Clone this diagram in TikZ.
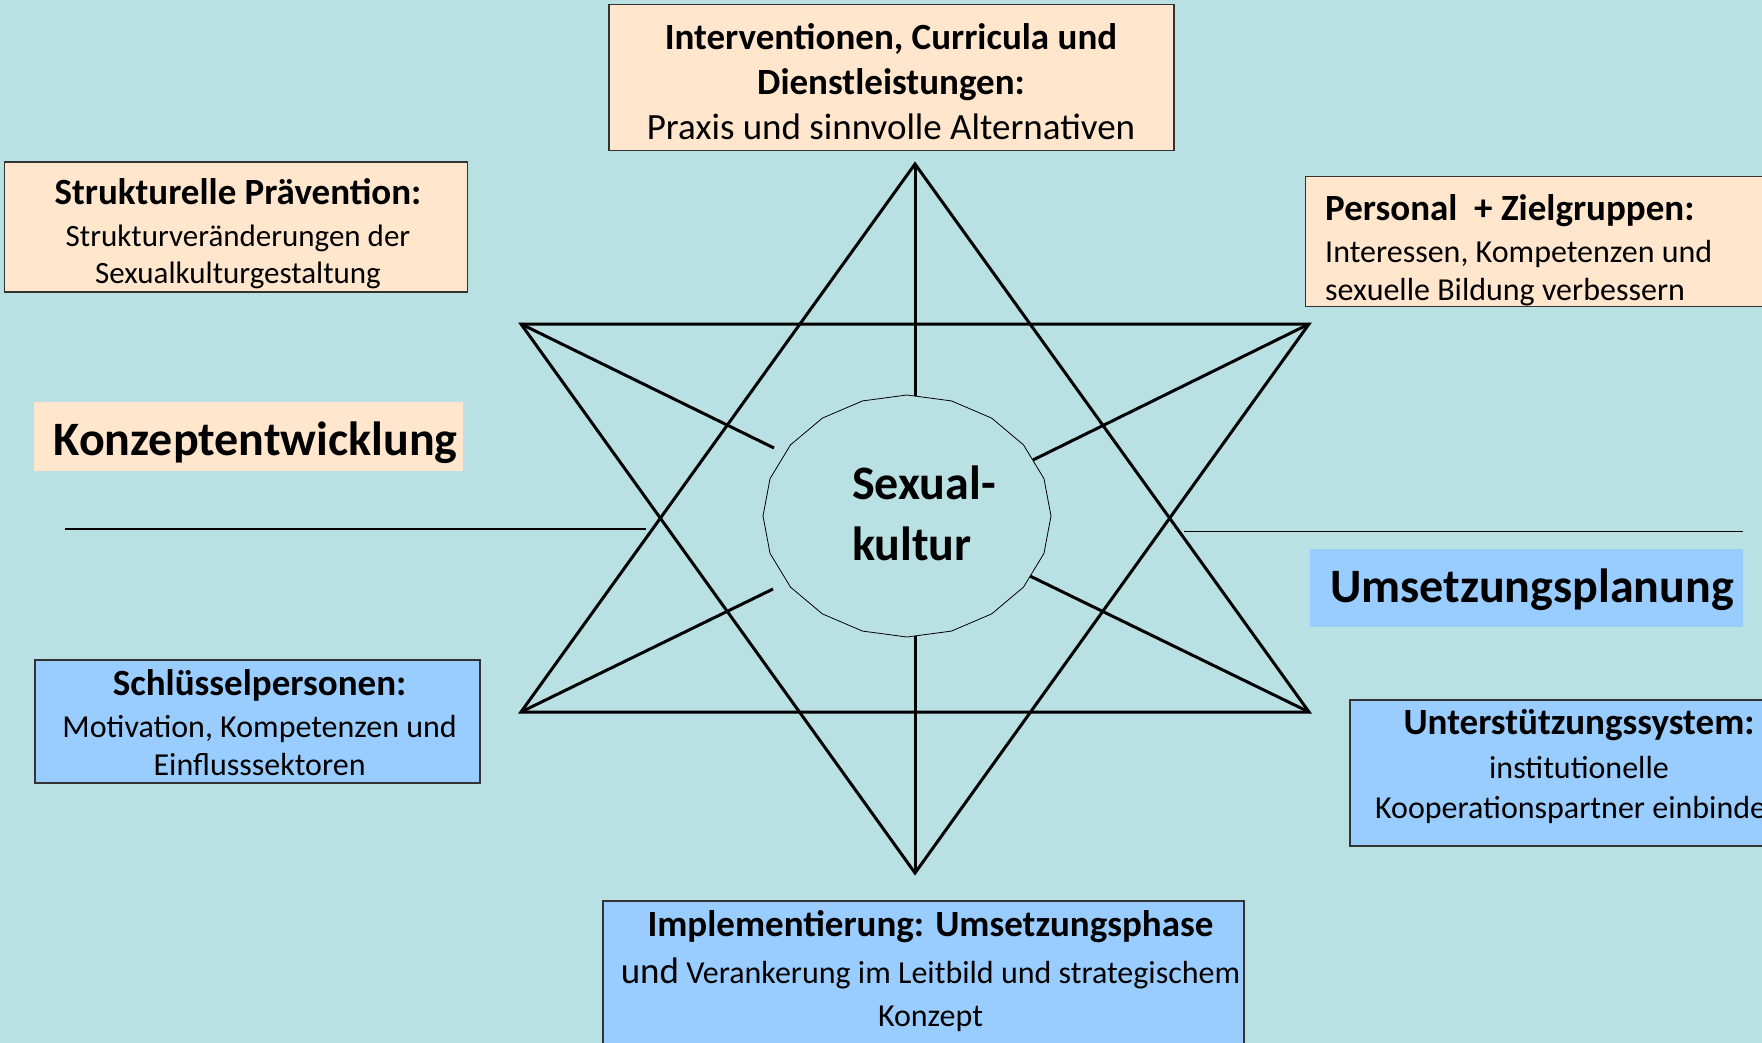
\documentclass[tikz,border=0pt]{standalone}
\usepackage{fontspec}
\setmainfont{Carlito}
\definecolor{bg}{RGB}{185,224,227}
\definecolor{peach}{RGB}{255,230,204}
\definecolor{sky}{RGB}{153,204,255}
\newcommand\fs[2]{\fontsize{#1}{#2}\selectfont}
\newcommand\hd[1]{{\fs{37}{44}\bfseries #1}}
\begin{document}
\begin{tikzpicture}[x=1pt,y=-1pt,
  box/.style={draw=black!80, line width=1.2pt, inner sep=0pt},
  peachbox/.style={box, fill=peach},
  bluebox/.style={box, fill=sky},
  label/.style={inner sep=0pt, align=center},
  starline/.style={line width=3pt, line join=miter},
  spoke/.style={line width=3pt},
  divider/.style={line width=1.5pt}]
\fill[bg] (0,0) rectangle (1762,1043);
\useasboundingbox (0,0) rectangle (1762,1043);
\clip (0,0) rectangle (1762,1043);

% star vertices
\coordinate (tA) at (915,164);
\coordinate (tL) at (521,712);
\coordinate (tR) at (1309,712);
\coordinate (dL) at (521,324);
\coordinate (dR) at (1309,324);
\coordinate (dB) at (915,873);
% ring attachment points
\coordinate (rT) at (915,396);
\coordinate (rB) at (915,636);
\coordinate (rUL) at (774,448);
\coordinate (rUR) at (1033,460);
\coordinate (rLL) at (773,589);
\coordinate (rLR) at (1030,576);
% dividers
\coordinate (hL1) at (65,529);
\coordinate (hL2) at (646,529);
\coordinate (hR1) at (1184,531.5);
\coordinate (hR2) at (1743,531.5);

\draw[starline] (tA) -- (tL) -- (tR) -- cycle;
\draw[starline] (dL) -- (dR) -- (dB) -- cycle;
\draw[spoke] (tA) -- (rT);
\draw[spoke] (dB) -- (rB);
\draw[spoke] (dL) -- (rUL);
\draw[spoke] (dR) -- (rUR);
\draw[spoke] (tL) -- (rLL);
\draw[spoke] (tR) -- (rLR);
\draw[divider] (hL1) -- (hL2);
\draw[divider] (hR1) -- (hR2);

% ring
\draw[line width=0.8pt, fill=bg] plot[samples=21, domain=0:360] ({907+144*cos(\x)},{516+121*sin(\x)}) -- cycle;
\node[font=\fs{48}{61}\bfseries, align=flush left, inner sep=0pt, anchor=west] (core) at (852,513.5) {Sexual-\\kultur};

% boxes
\node[peachbox, minimum width=565, minimum height=146] (topbox) at (891.5,77.5) {};
\node[label, font=\fs{37}{45}] (top) at (891,82)
  {{\bfseries Interventionen, Curricula und}\\ {\bfseries Dienstleistungen:}\\ Praxis und sinnvolle Alternativen};

\node[peachbox, minimum width=463, minimum height=130] (strukbox) at (236,227) {};
\node[label, font=\fs{31}{37}] (struk) at (238,234)
  {\hd{Strukturelle Prävention:}\\[5pt] Strukturveränderungen der\\ Sexualkulturgestaltung};

\node[fill=peach, inner sep=0pt, minimum width=429, minimum height=69] (konzbox) at (248.5,436.5) {};
\node[label, font=\fs{48}{56}\bfseries] (konz) at (255.6,443) {Konzeptentwicklung};

\node[peachbox, anchor=north west, minimum width=480, minimum height=130] (persbox) at (1305,176) {};
\node[label, align=flush left, anchor=west, font=\fs{32}{38}] (pers) at (1325,250)
  {\hd{Personal~~+ Zielgruppen:}\\[4pt] Interessen, Kompetenzen und\\ sexuelle Bildung verbessern};

\node[fill=sky, inner sep=0pt, minimum width=433, minimum height=77.5] (umsbox) at (1526.5,588) {};
\node[label, font=\fs{48}{56}\bfseries] (ums) at (1532,590) {Umsetzungsplanung};

\node[bluebox, minimum width=458, minimum height=146] (unterbox) at (1579,773) {};
\node[label, font=\fs{32}{40}] (unter) at (1579,767)
  {\hd{Unterstützungssystem:}\\[4pt] institutionelle\\ Kooperationspartner einbinden};

\node[bluebox, minimum width=445, minimum height=123] (schlbox) at (257.5,721.5) {};
\node[label, font=\fs{32}{38}] (schl) at (259.6,723)
  {\hd{Schlüsselpersonen:}\\[4pt] Motivation, Kompetenzen und\\ Einflusssektoren};

\node[bluebox, minimum width=641, minimum height=150] (implbox) at (923.5,976) {};
\node[label, font=\fs{32}{43}] (impl) at (930.5,971.5)
  {\hd{Implementierung: Umsetzungsphase}\\[4pt] {\fs{37}{43}und} Verankerung im Leitbild und strategischem\\ Konzept};
\end{tikzpicture}
\end{document}
